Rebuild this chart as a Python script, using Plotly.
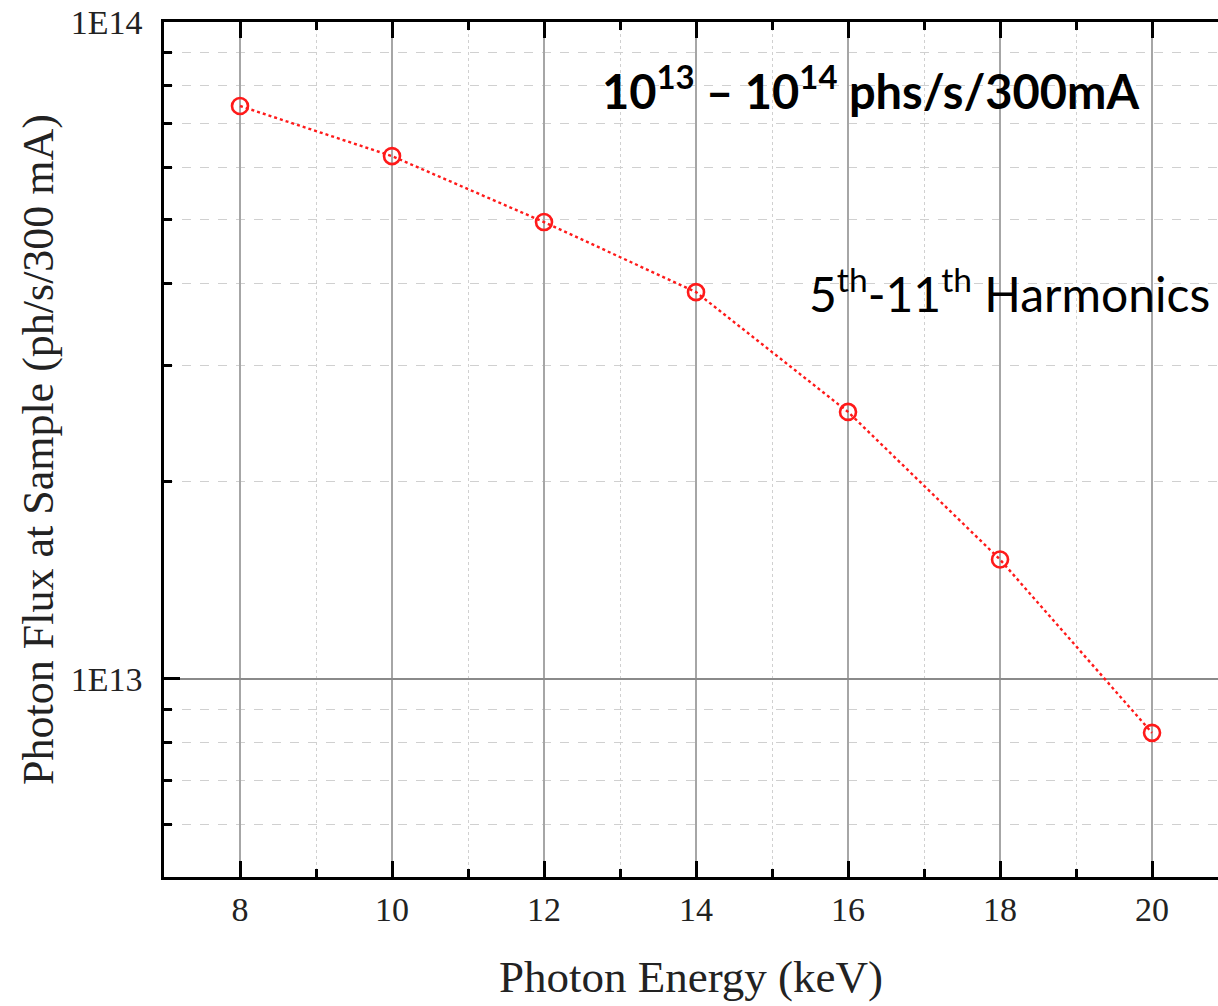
import plotly.graph_objects as go

# Photon flux delivered to the sample vs. photon energy
energy_kev = [8, 10, 12, 14, 16, 18, 20]
flux_ph_s = [7.45e13, 6.25e13, 4.96e13, 3.88e13, 2.55e13, 1.52e13, 8.28e12]

major_y = [1e13, 1e14]
major_y_text = ["1E13", "1E14"]
minor_y = [m * 1e12 for m in (5, 6, 7, 8, 9)] + [m * 1e13 for m in (2, 3, 4, 5, 6, 7, 8, 9)]
major_x = [8, 10, 12, 14, 16, 18, 20]
minor_x = [7, 9, 11, 13, 15, 17, 19, 21]

serif = "Liberation Serif, Times New Roman, serif"
sans = "Lato, Carlito, Calibri, sans-serif"

fig = go.Figure()
fig.add_trace(go.Scatter(
    x=energy_kev, y=flux_ph_s, mode="lines+markers",
    line=dict(color="#ff1a1a", width=2.4, dash="dot"),
    marker=dict(symbol="circle-open", size=16, color="#ff1a1a", line=dict(width=2.6, color="#ff1a1a")),
    showlegend=False,
))

fig.update_xaxes(
    range=[7, 20.868], tickmode="array", tickvals=major_x,
    showline=True, linecolor="black", linewidth=2.5, mirror="ticks",
    ticks="inside", ticklen=16, tickwidth=2.5, tickcolor="black",
    showgrid=True, gridcolor="#a6a6a6", gridwidth=1.5,
    minor=dict(tickmode="array", tickvals=minor_x, ticks="inside", ticklen=8, tickwidth=2.5,
               tickcolor="black", showgrid=True, gridcolor="#d0d0d0", griddash="dot", gridwidth=1),
    tickfont=dict(family=serif, size=34, color="#222"),
    ticklabelstandoff=0,
    title=dict(text="Photon Energy (keV)", font=dict(family=serif, size=45, color="#222"), standoff=34),
    zeroline=False,
)
fig.update_yaxes(
    type="log", range=[12.6986, 14.0], tickmode="array", tickvals=major_y, ticktext=major_y_text,
    showline=True, linecolor="black", linewidth=2.5, mirror=False,
    ticks="inside", ticklen=16, tickwidth=2.5, tickcolor="black",
    showgrid=True, gridcolor="#8a8a8a", gridwidth=1.5,
    minor=dict(tickmode="array", tickvals=minor_y, ticks="inside", ticklen=8, tickwidth=2.5,
               tickcolor="black", showgrid=True, gridcolor="#d0d0d0", griddash="dash", gridwidth=1),
    tickfont=dict(family=serif, size=34, color="#222"),
    ticklabelstandoff=12,
    title=dict(text="Photon Flux at Sample (ph/s/300 mA)", font=dict(family=serif, size=44, color="#222"), standoff=4),
    zeroline=False,
)

# annotation coordinates on a log axis are given in log10 units
fig.add_annotation(
    xref="x", yref="y", x=16.30, y=13.8995, yanchor="middle", xanchor="center",
    text="<b>10<sup>13</sup> – 10<sup>14</sup> phs/s/300mA</b>", showarrow=False,
    font=dict(family=sans, size=47, color="black"),
)
fig.add_annotation(
    xref="x", yref="y", x=18.13, y=13.592, yanchor="middle", xanchor="center",
    text="5<sup>th</sup>-11<sup>th</sup> Harmonics", showarrow=False,
    font=dict(family=sans, size=48, color="black"),
)

fig.update_layout(
    width=1218, height=1006,
    margin=dict(l=164, r=0, t=22, b=129),
    paper_bgcolor="white", plot_bgcolor="white",
)

fig.write_html("out.html")
